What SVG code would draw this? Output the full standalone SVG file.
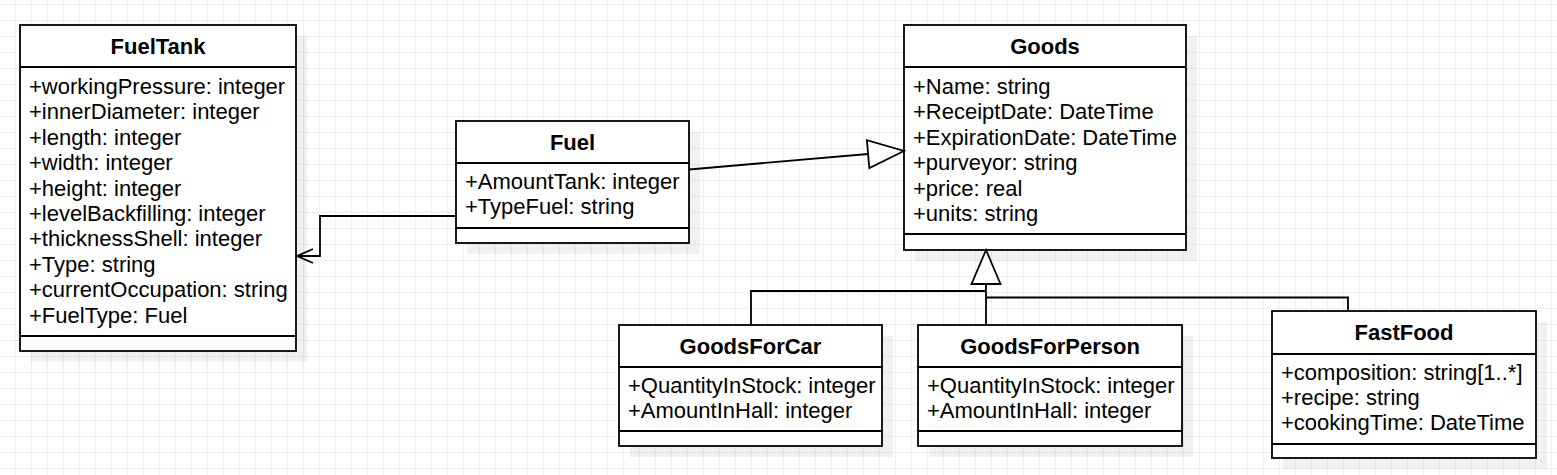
<svg xmlns="http://www.w3.org/2000/svg" width="1557" height="475" viewBox="0 0 1557 475">
<style>
.box{fill:#fff;stroke:#000;stroke-width:1.8}
.sh{fill:#000;fill-opacity:0.055}
.sep{stroke:#000;stroke-width:1.8}
.t{font-family:"Liberation Sans",Arial,sans-serif;font-size:22px;font-weight:bold;text-anchor:middle;fill:#000}
.a{font-family:"Liberation Sans",Arial,sans-serif;font-size:22px;fill:#000}
.c{fill:none;stroke:#000;stroke-width:1.8}
.tri{fill:#fff;stroke:#000;stroke-width:1.8;stroke-linejoin:miter}
</style>
<defs>
<pattern id="grid" width="16" height="16" patternUnits="userSpaceOnUse">
<path d="M15.5 0V16M0 4.5H16" stroke="#efefef" stroke-width="1" fill="none"/>
</pattern>
</defs>
<rect width="1557" height="475" fill="#fff"/>
<rect width="1557" height="475" fill="url(#grid)"/>

<g id="FuelTank">
<rect class="sh" x="31" y="36" width="276" height="326"/>
<rect class="box" x="20" y="25" width="276" height="326"/>
<line class="sep" x1="20" y1="67" x2="296" y2="67"/>
<line class="sep" x1="20" y1="336" x2="296" y2="336"/>
<text class="t" x="158" y="54">FuelTank</text>
<text class="a" x="29" y="94">+workingPressure: integer</text>
<text class="a" x="29" y="119.4">+innerDiameter: integer</text>
<text class="a" x="29" y="144.8">+length: integer</text>
<text class="a" x="29" y="170.2">+width: integer</text>
<text class="a" x="29" y="195.6">+height: integer</text>
<text class="a" x="29" y="221">+levelBackfilling: integer</text>
<text class="a" x="29" y="246.4">+thicknessShell: integer</text>
<text class="a" x="29" y="271.8">+Type: string</text>
<text class="a" x="29" y="297.2">+currentOccupation: string</text>
<text class="a" x="29" y="322.6">+FuelType: Fuel</text>
</g>

<g id="Fuel">
<rect class="sh" x="467" y="132" width="233" height="122"/>
<rect class="box" x="456" y="121" width="233" height="122"/>
<line class="sep" x1="456" y1="163" x2="689" y2="163"/>
<line class="sep" x1="456" y1="228" x2="689" y2="228"/>
<text class="t" x="572.5" y="150">Fuel</text>
<text class="a" x="465" y="189">+AmountTank: integer</text>
<text class="a" x="465" y="214.4">+TypeFuel: string</text>
</g>

<g id="Goods">
<rect class="sh" x="915" y="36" width="282" height="225"/>
<rect class="box" x="904" y="25" width="282" height="225"/>
<line class="sep" x1="904" y1="67" x2="1186" y2="67"/>
<line class="sep" x1="904" y1="234" x2="1186" y2="234"/>
<text class="t" x="1045" y="54">Goods</text>
<text class="a" x="913" y="94">+Name: string</text>
<text class="a" x="913" y="119.4">+ReceiptDate: DateTime</text>
<text class="a" x="913" y="144.8">+ExpirationDate: DateTime</text>
<text class="a" x="913" y="170.2">+purveyor: string</text>
<text class="a" x="913" y="195.6">+price: real</text>
<text class="a" x="913" y="221">+units: string</text>
</g>

<g id="GoodsForCar">
<rect class="sh" x="630" y="336" width="263" height="121"/>
<rect class="box" x="619" y="325" width="263" height="121"/>
<line class="sep" x1="619" y1="367" x2="882" y2="367"/>
<line class="sep" x1="619" y1="431" x2="882" y2="431"/>
<text class="t" x="750.5" y="354">GoodsForCar</text>
<text class="a" x="628" y="393">+QuantityInStock: integer</text>
<text class="a" x="628" y="418.4">+AmountInHall: integer</text>
</g>

<g id="GoodsForPerson">
<rect class="sh" x="929" y="336" width="264" height="121"/>
<rect class="box" x="918" y="325" width="264" height="121"/>
<line class="sep" x1="918" y1="367" x2="1182" y2="367"/>
<line class="sep" x1="918" y1="431" x2="1182" y2="431"/>
<text class="t" x="1050" y="354">GoodsForPerson</text>
<text class="a" x="927" y="393">+QuantityInStock: integer</text>
<text class="a" x="927" y="418.4">+AmountInHall: integer</text>
</g>

<g id="FastFood">
<rect class="sh" x="1283" y="322" width="264" height="147"/>
<rect class="box" x="1272" y="311" width="264" height="147"/>
<line class="sep" x1="1272" y1="354" x2="1536" y2="354"/>
<line class="sep" x1="1272" y1="444" x2="1536" y2="444"/>
<text class="t" x="1404" y="340">FastFood</text>
<text class="a" x="1281" y="379.5">+composition: string[1..*]</text>
<text class="a" x="1281" y="404.9">+recipe: string</text>
<text class="a" x="1281" y="430.3">+cookingTime: DateTime</text>
</g>

<g id="connectors">
<polyline class="c" points="456,216 320,216 320,256 297,256"/>
<polyline class="c" points="313,249 297,256 313,263"/>
<line class="c" x1="689" y1="169.5" x2="868" y2="154"/>
<polygon class="tri" points="904,151 869.3,168 866.9,140.2"/>
<polyline class="c" points="986,325 986,284"/>
<polyline class="c" points="751,325 751,291 986,291"/>
<polyline class="c" points="1348,311 1348,297.5 986,297.5"/>
<polygon class="tri" points="986,250 971.5,284 1000.5,284"/>
</g>
</svg>
